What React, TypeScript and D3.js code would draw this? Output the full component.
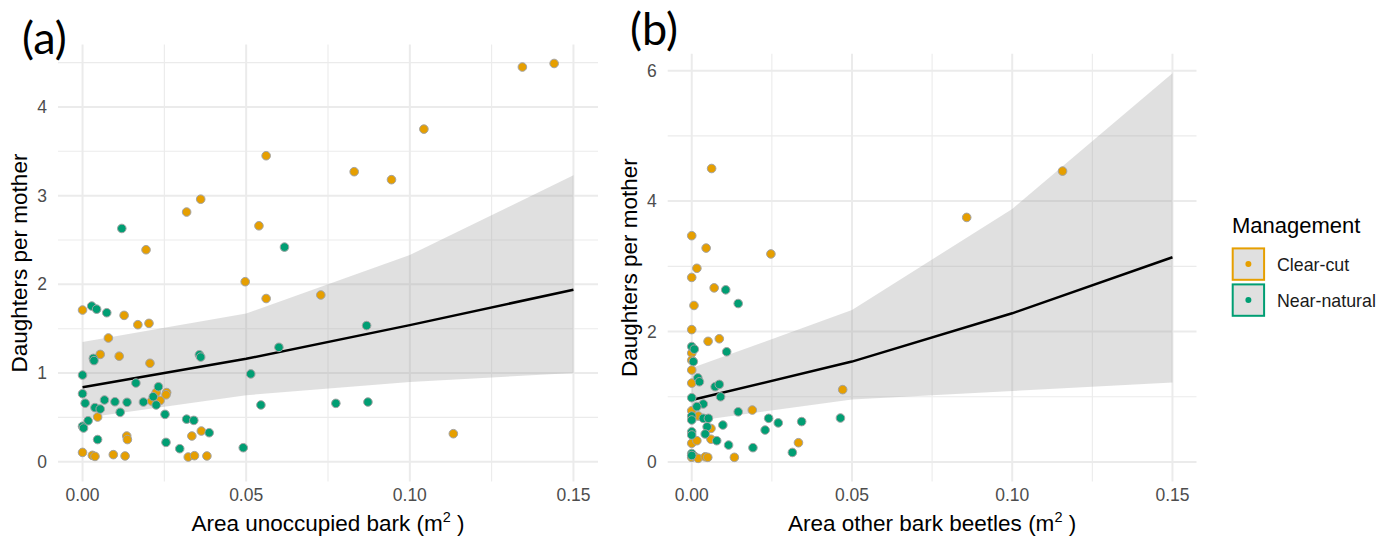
import React from 'react';
import * as d3 from 'd3';

// values: [area, daughters per mother]
const clearCutA: [number, number][] = [
  [0.0318, 2.815], [0.0361, 2.96], [0.0539, 2.66], [0.0194, 2.39], [0.0497, 2.03],
  [0.0561, 1.84], [0.0728, 1.88], [0.0, 1.71], [0.0127, 1.65], [0.0169, 1.545],
  [0.0203, 1.56], [0.0079, 1.395], [0.0054, 1.21], [0.0112, 1.19], [0.0206, 1.11],
  [0.0225, 0.78], [0.0257, 0.78], [0.0255, 0.755], [0.0211, 0.684], [0.0237, 0.69],
  [0.0046, 0.504], [0.0363, 0.346], [0.0334, 0.29], [0.0135, 0.29], [0.0137, 0.25],
  [0.0, 0.105], [0.003, 0.072], [0.0038, 0.06], [0.0094, 0.08], [0.013, 0.065],
  [0.0323, 0.053], [0.0342, 0.068], [0.038, 0.065], [0.1344, 4.45], [0.1441, 4.49],
  [0.1043, 3.75], [0.0561, 3.45], [0.083, 3.27], [0.0944, 3.18], [0.1133, 0.316],
];
const nearNaturalA: [number, number][] = [
  [0.012, 2.63], [0.0617, 2.42], [0.0028, 1.755], [0.0043, 1.72], [0.0074, 1.68],
  [0.0033, 1.165], [0.0035, 1.14], [0.0357, 1.206], [0.0361, 1.18], [0.06, 1.29],
  [0.0, 0.977], [0.0514, 0.99], [0.0163, 0.887], [0.0232, 0.846], [0.0, 0.767],
  [0.0008, 0.66], [0.0067, 0.696], [0.0099, 0.676], [0.0136, 0.67], [0.0186, 0.673],
  [0.0216, 0.733], [0.0225, 0.64], [0.0038, 0.61], [0.0054, 0.594], [0.0115, 0.557],
  [0.0545, 0.64], [0.0774, 0.658], [0.0252, 0.534], [0.0017, 0.462], [0.0, 0.4],
  [0.0003, 0.38], [0.0318, 0.48], [0.034, 0.466], [0.0387, 0.327], [0.0046, 0.25],
  [0.0255, 0.218], [0.0297, 0.147], [0.0491, 0.158], [0.0868, 1.535], [0.0872, 0.673],
];
const clearCutB: [number, number][] = [
  [0.0062, 4.5], [0.0, 3.47], [0.0045, 3.28], [0.0247, 3.19], [0.0016, 2.97],
  [0.0, 2.83], [0.007, 2.67], [0.0007, 2.4], [0.0, 2.03], [0.0051, 1.85],
  [0.0086, 1.89], [0.0, 1.67], [0.0, 1.56], [0.0, 1.41], [0.0, 1.21],
  [0.0, 0.787], [0.0021, 0.705], [0.006, 0.515], [0.0189, 0.797], [0.0, 0.287],
  [0.0016, 0.327], [0.006, 0.35], [0.0333, 0.296], [0.0, 0.072], [0.0008, 0.09],
  [0.002, 0.056], [0.0042, 0.08], [0.005, 0.072], [0.0133, 0.072], [0.0471, 1.11],
  [0.1157, 4.46], [0.0858, 3.75],
];
const nearNaturalB: [number, number][] = [
  [0.0106, 2.64], [0.0145, 2.43], [0.0109, 1.69], [0.0, 1.77], [0.0008, 1.73],
  [0.0005, 1.54], [0.0019, 1.29], [0.0024, 1.23], [0.0073, 1.155], [0.0086, 1.19],
  [0.009, 1.0], [0.0, 0.986], [0.0036, 0.89], [0.0016, 0.85], [0.0, 0.705],
  [0.0036, 0.67], [0.0052, 0.67], [0.0, 0.644], [0.0048, 0.54], [0.0, 0.465],
  [0.0097, 0.567], [0.0145, 0.77], [0.024, 0.67], [0.027, 0.6], [0.0343, 0.62],
  [0.0229, 0.49], [0.0, 0.414], [0.0042, 0.43], [0.0078, 0.327], [0.0115, 0.26],
  [0.0191, 0.22], [0.0314, 0.147], [0.0, 0.13], [0.0, 0.1], [0.0464, 0.675],
];

// model predictions with confidence band
const fitX = [0, 0.05, 0.1, 0.15];
const fitA = [0.84, 1.16, 1.54, 1.94];
const lowA = [0.49, 0.75, 0.9, 1.0];
const highA = [1.35, 1.67, 2.33, 3.23];
const fitB = [0.95, 1.54, 2.28, 3.14];
const lowB = [0.62, 0.96, 1.09, 1.22];
const highB = [1.44, 2.33, 3.88, 5.96];

const xMajor = [0, 0.05, 0.1, 0.15];
const xMinor = [0.025, 0.075, 0.125];
const yMajorA = [0, 1, 2, 3, 4];
const yMinorA = [0.5, 1.5, 2.5, 3.5, 4.5];
const yMajorB = [0, 2, 4, 6];
const yMinorB = [1, 3, 5];

const ORANGE = '#E69F00';
const GREEN = '#009E73';
const FONT = '"Liberation Sans", Arial, Helvetica, sans-serif';

type PanelProps = {
  left: number; right: number; top: number; bottom: number;
  yDomain: [number, number];
  yMajor: number[]; yMinor: number[];
  cut: [number, number][]; nat: [number, number][];
  fit: number[]; low: number[]; high: number[];
  xTitle: string; tag: string; tagX: number; tagY: number;
};

function Panel(p: PanelProps) {
  const x = d3.scaleLinear().domain([-0.0075, 0.1575]).range([p.left, p.right]);
  const y = d3.scaleLinear().domain(p.yDomain).range([p.bottom, p.top]);
  const idx = fitX.map((_, i) => i);
  const area = d3.area<number>()
    .x(i => x(fitX[i]))
    .y0(i => y(p.low[i]))
    .y1(i => y(p.high[i]))(idx) || '';
  const line = d3.line<number>()
    .x(i => x(fitX[i]))
    .y(i => y(p.fit[i]))(idx) || '';
  const cx = (p.left + p.right) / 2;
  const cy = (p.top + p.bottom) / 2;
  const pts = [
    ...p.cut.map(d => ({ d, c: ORANGE })),
    ...p.nat.map(d => ({ d, c: GREEN })),
  ];
  return (
    <g>
      {/* grid */}
      {xMinor.map(v => (
        <line key={'xm' + v} x1={x(v)} x2={x(v)} y1={p.top} y2={p.bottom} stroke="#ebebeb" strokeWidth={1.1} />
      ))}
      {p.yMinor.map(v => (
        <line key={'ym' + v} x1={p.left} x2={p.right} y1={y(v)} y2={y(v)} stroke="#ebebeb" strokeWidth={1.1} />
      ))}
      {xMajor.map(v => (
        <line key={'xM' + v} x1={x(v)} x2={x(v)} y1={p.top} y2={p.bottom} stroke="#ebebeb" strokeWidth={2} />
      ))}
      {p.yMajor.map(v => (
        <line key={'yM' + v} x1={p.left} x2={p.right} y1={y(v)} y2={y(v)} stroke="#ebebeb" strokeWidth={2} />
      ))}

      <path d={area} fill="#999999" fillOpacity={0.3} />
      <path d={line} fill="none" stroke="#000" strokeWidth={2.5} />

      {pts.map((o, i) => (
        <circle key={i} cx={x(o.d[0])} cy={y(o.d[1])} r={4.3} fill={o.c} stroke="#a3a3a3" strokeWidth={1} />
      ))}

      {/* tick labels */}
      {xMajor.map(v => (
        <text key={'xt' + v} x={x(v)} y={501} textAnchor="middle" fontSize={17.5} fill="#4d4d4d" fontFamily={FONT}>
          {d3.format('.2f')(v)}
        </text>
      ))}
      {p.yMajor.map(v => (
        <text key={'yt' + v} x={p.left - 11} y={y(v) + 6} textAnchor="end" fontSize={17.5} fill="#4d4d4d" fontFamily={FONT}>
          {v}
        </text>
      ))}

      {/* axis titles */}
      <text x={cx} y={531} textAnchor="middle" fontSize={22.5} fill="#000" fontFamily={FONT}>
        {p.xTitle} (m<tspan dy={-9.5} fontSize={14.5}>2</tspan><tspan dy={9.5}> )</tspan>
      </text>
      <text transform={`translate(${p.left - 31},${cy}) rotate(-90)`} textAnchor="middle" fontSize={22.5} fill="#000" fontFamily={FONT}>
        Daughters per mother
      </text>

      <text x={p.tagX} y={p.tagY} fontSize={45} fill="#000" fontFamily="Lato, 'Open Sans', sans-serif">{p.tag}</text>
    </g>
  );
}

export default function App() {
  return (
    <svg width={1395} height={544} style={{ position: 'absolute', left: 0, top: 0, background: '#fff' }}>
      <rect width={1395} height={544} fill="#fff" />
      <Panel left={58} right={598} top={44.5} bottom={481.6} yDomain={[-0.224, 4.704]}
        yMajor={yMajorA} yMinor={yMinorA} cut={clearCutA} nat={nearNaturalA}
        fit={fitA} low={lowA} high={highA} xTitle="Area unoccupied bark" tag="(a)" tagX={22} tagY={54} />
      <Panel left={667.7} right={1196.5} top={53.7} bottom={481.6} yDomain={[-0.3, 6.26]}
        yMajor={yMajorB} yMinor={yMinorB} cut={clearCutB} nat={nearNaturalB}
        fit={fitB} low={lowB} high={highB} xTitle="Area other bark beetles" tag="(b)" tagX={630} tagY={45} />

      {/* legend */}
      <g fontFamily={FONT}>
        <text x={1232} y={233} fontSize={22} fill="#000">Management</text>
        {[{ c: ORANGE, l: 'Clear-cut' }, { c: GREEN, l: 'Near-natural' }].map((k, i) => (
          <g key={k.l} transform={`translate(0,${i * 36})`}>
            <rect x={1232.7} y={248.4} width={31.4} height={31.4} fill="#e0e0e0" stroke={k.c} strokeWidth={2} />
            <circle cx={1248.4} cy={264.1} r={3} fill={k.c} />
            <text x={1277} y={270.5} fontSize={17.8} fill="#1a1a1a">{k.l}</text>
          </g>
        ))}
      </g>
    </svg>
  );
}
